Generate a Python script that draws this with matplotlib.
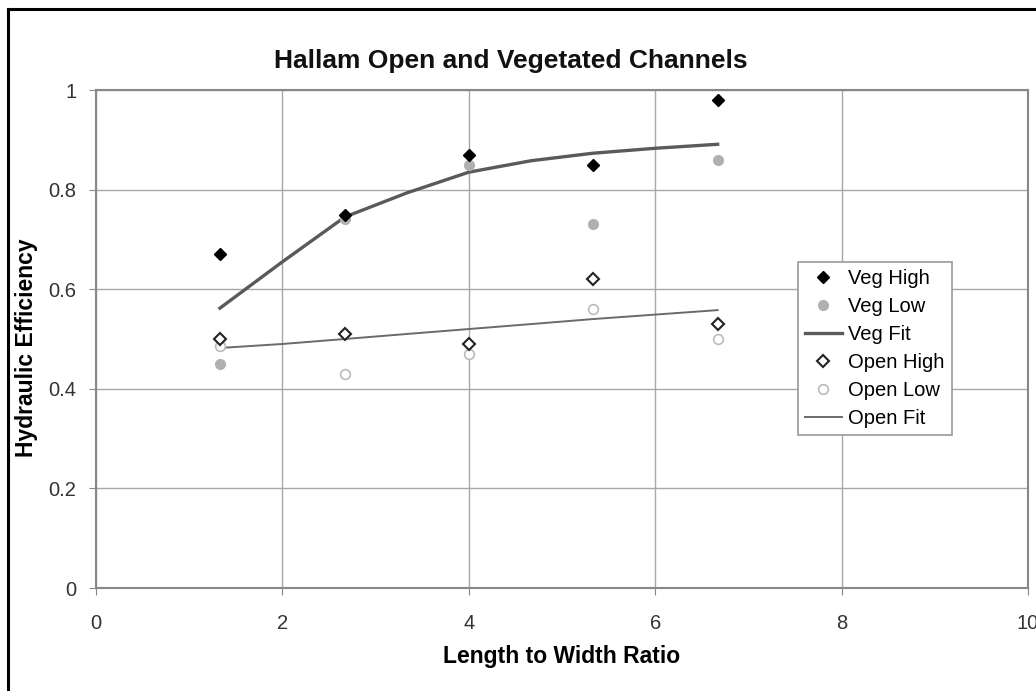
import matplotlib
matplotlib.use('agg')
import matplotlib.pyplot as plt
from matplotlib.lines import Line2D

plt.rcParams['font.family'] = ['Liberation Sans', 'DejaVu Sans']

# data
ratio = [1.33, 2.67, 4.0, 5.33, 6.67]
veg_high = [0.67, 0.75, 0.87, 0.85, 0.98]
veg_low = [0.45, 0.74, 0.85, 0.73, 0.86]
open_high = [0.50, 0.51, 0.49, 0.62, 0.53]
open_low = [0.485, 0.43, 0.47, 0.56, 0.50]

fit_x = [1.33, 2.0, 2.67, 3.33, 4.0, 4.67, 5.33, 6.0, 6.67]
veg_fit = [0.562, 0.655, 0.745, 0.793, 0.835, 0.858, 0.873, 0.883, 0.891]
open_fit = [0.482, 0.490, 0.500, 0.510, 0.520, 0.530, 0.540, 0.549, 0.558]

fig = plt.figure(figsize=(10.36, 6.91), dpi=100)
ax = fig.add_axes([96/1036, 1 - 588/691, 932/1036, 498/691])

# black frame around the whole chart
fig.add_artist(Line2D([8/1036, 8/1036], [-0.1, 1 - 9/691], color='black', lw=2.2,
                      transform=fig.transFigure))
fig.add_artist(Line2D([8/1036, 1.1], [1 - 9/691, 1 - 9/691], color='black', lw=2.2,
                      transform=fig.transFigure))

ax.plot(ratio, veg_high, linestyle='none', marker='D', ms=6.5, color='black', label='Veg High', zorder=5)
ax.plot(ratio, veg_low, linestyle='none', marker='o', ms=7, color='#b0b0b0', label='Veg Low', zorder=4)
ax.plot(fit_x, veg_fit, color='#5a5a5a', lw=2.4, label='Veg Fit', zorder=3)
ax.plot(ratio, open_high, linestyle='none', marker='D', ms=6.5, mfc='white', mec='#222222', mew=1.5,
        label='Open High', zorder=5)
ax.plot(ratio, open_low, linestyle='none', marker='o', ms=7, mfc='white', mec='#bbbbbb', mew=1.2,
        label='Open Low', zorder=4)
ax.plot(fit_x, open_fit, color='#6a6a6a', lw=1.4, label='Open Fit', zorder=3)

ax.set_xlim(0, 10)
ax.set_ylim(0, 1)
ax.set_xticks([0, 2, 4, 6, 8, 10])
ax.set_yticks([0, 0.2, 0.4, 0.6, 0.8, 1])
ax.set_yticklabels(['0', '0.2', '0.4', '0.6', '0.8', '1'])
ax.grid(True, color='#a8a8a8', lw=1.0)
ax.set_axisbelow(True)
for s in ax.spines.values():
    s.set_color('#888888')
    s.set_linewidth(1.5)
ax.tick_params(direction='out', length=5, color='#888888', labelsize=14.5,
               labelcolor='#333333')
ax.tick_params(axis='x', pad=14)
ax.tick_params(axis='y', pad=9)

fig.text(511/1036, 1 - 61/691, 'Hallam Open and Vegetated Channels', fontsize=19,
         fontweight='bold', ha='center', va='center', color='#111111')
ax.set_xlabel('Length to Width Ratio', fontsize=16.5, fontweight='bold', labelpad=8)
ax.set_ylabel('Hydraulic Efficiency', fontsize=16.5, fontweight='bold')
ax.yaxis.set_label_coords(-0.062, 0.482)

leg = ax.legend(loc='upper left', bbox_to_anchor=(0.753, 0.655), borderaxespad=0,
                fontsize=14.5, fancybox=False, framealpha=1, edgecolor='#999999',
                handlelength=1.85, handletextpad=0.3, labelspacing=0.45, borderpad=0.35)
leg.get_frame().set_linewidth(1.2)

fig.savefig('out.png', dpi=100)
